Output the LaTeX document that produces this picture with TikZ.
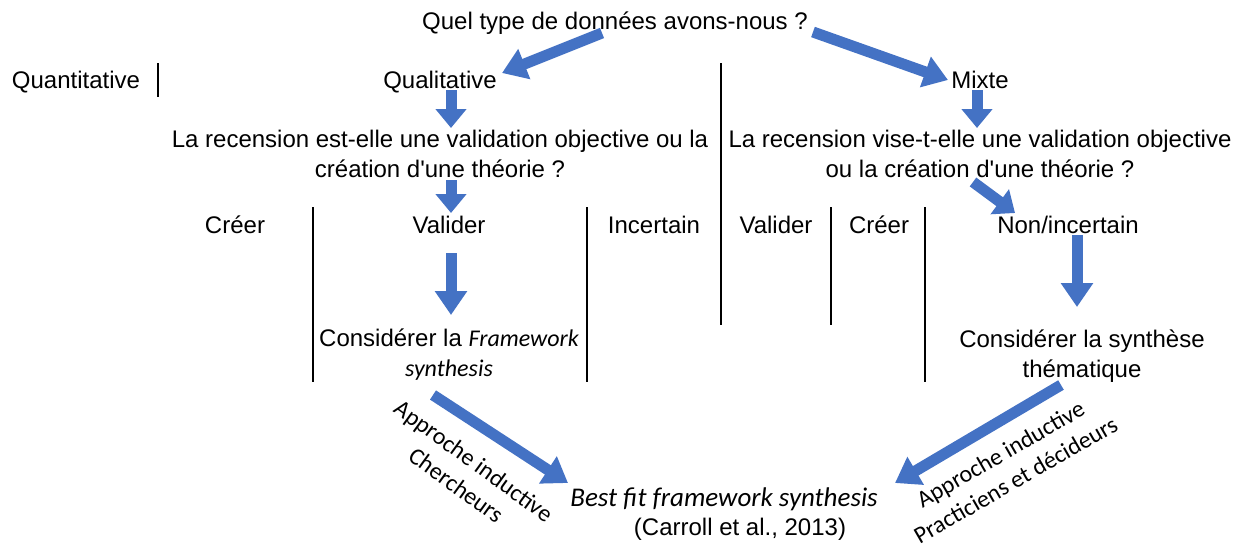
\documentclass[tikz,border=0pt]{standalone}
\usepackage{fontspec}
\setmainfont{Liberation Sans}
\newfontfamily\calibri{Carlito}
\usepackage{tikz}
\usepackage{xcolor}
\usetikzlibrary{arrows.meta, positioning}
\definecolor{accentblue}{HTML}{4472C4}

\begin{document}
\begin{tikzpicture}[x=1pt, y=-1pt,
            txt/.style={inner sep=0pt, align=center, font=\fontsize{24}{30}\selectfont},
            cal/.style={inner sep=0pt, align=center, font=\fontsize{24}{30}\selectfont\calibri},
            sepline/.style={black, line width=1.2pt},
            blockarrow/.style={accentblue, line width=11pt, -{Triangle[length=24pt, width=31pt]}},
            shortarrow/.style={accentblue, line width=11pt, -{Triangle[length=19pt, width=30pt]}}]
            \useasboundingbox (0,0) rectangle (1245,546);
            \node[txt, anchor=base] (question) at (615,29) {Quel type de données avons-nous ?};
            \node[txt, anchor=base] (quanti) at (76,88) {Quantitative};
            \node[txt, anchor=base] (quali) at (440,88) {Qualitative};
            \node[txt, anchor=base] (mixte) at (980,88) {Mixte};
            \node[txt] (recgauche) at (440,154) {La recension est-elle une validation objective ou la\\création d\textquotesingle une théorie ?};
            \node[txt] (recdroite) at (980,154) {La recension vise-t-elle une validation objective\\ou la création d\textquotesingle une théorie ?};
            \node[txt, anchor=base] (creer1) at (235,233) {Créer};
            \node[txt, anchor=base] (valider1) at (449,233) {Valider};
            \node[txt, anchor=base] (incertain) at (654,233) {Incertain};
            \node[txt, anchor=base] (valider2) at (776,233) {Valider};
            \node[txt, anchor=base] (creer2) at (879,233) {Créer};
            \node[txt, anchor=base] (nonincertain) at (1068,233) {Non/incertain};
            \node[txt] (framework) at (449,355) {Considérer la {\calibri\itshape Framework}\\{\calibri\itshape synthesis}};
            \node[txt] (thematique) at (1082,356) {Considérer la synthèse\\thématique};
            \node[cal, anchor=base, font=\fontsize{27}{30}\selectfont\calibri\itshape] (bestfit) at (724,506) {Best fit framework synthesis};
            \node[txt, anchor=base] (carroll) at (740,535) {(Carroll et al., 2013)};
            \node[cal, rotate=-36] (chercheurs) at (465,473) {Approche inductive\\Chercheurs};
            \node[cal, rotate=30] (decideurs) at (1008,467) {Approche inductive\\Practiciens et décideurs};
            \draw[sepline] (158,63) -- (158,97);
            \draw[sepline] (721,63) -- (721,325);
            \draw[sepline] (313,207) -- (313,382);
            \draw[sepline] (587,207) -- (587,382);
            \draw[sepline] (831,207) -- (831,325);
            \draw[sepline] (925,207) -- (925,382);
            \coordinate (q1) at (602,33);
            \coordinate (q2) at (502,73);
            \coordinate (m1) at (813,32);
            \coordinate (m2) at (948,80);
            \coordinate (l1) at (451,90);
            \coordinate (l2) at (451,128);
            \coordinate (r1) at (977,90);
            \coordinate (r2) at (977,128);
            \coordinate (l3) at (451,180);
            \coordinate (l4) at (451,213);
            \coordinate (r3) at (973,182);
            \coordinate (r4) at (1015,213);
            \coordinate (l5) at (451,253);
            \coordinate (l6) at (451,315);
            \coordinate (r5) at (1077,235);
            \coordinate (r6) at (1077,307);
            \coordinate (l7) at (433,395);
            \coordinate (l8) at (568,483);
            \coordinate (r7) at (1061,385);
            \coordinate (r8) at (895,483);
            \draw[blockarrow] (q1) -- (q2);
            \draw[blockarrow] (m1) -- (m2);
            \draw[shortarrow] (l1) -- (l2);
            \draw[shortarrow] (r1) -- (r2);
            \draw[shortarrow] (l3) -- (l4);
            \draw[shortarrow] (r3) -- (r4);
            \draw[blockarrow] (l5) -- (l6);
            \draw[blockarrow] (r5) -- (r6);
            \draw[blockarrow] (l7) -- (l8);
            \draw[blockarrow] (r7) -- (r8);
        \end{tikzpicture}
\end{document}
